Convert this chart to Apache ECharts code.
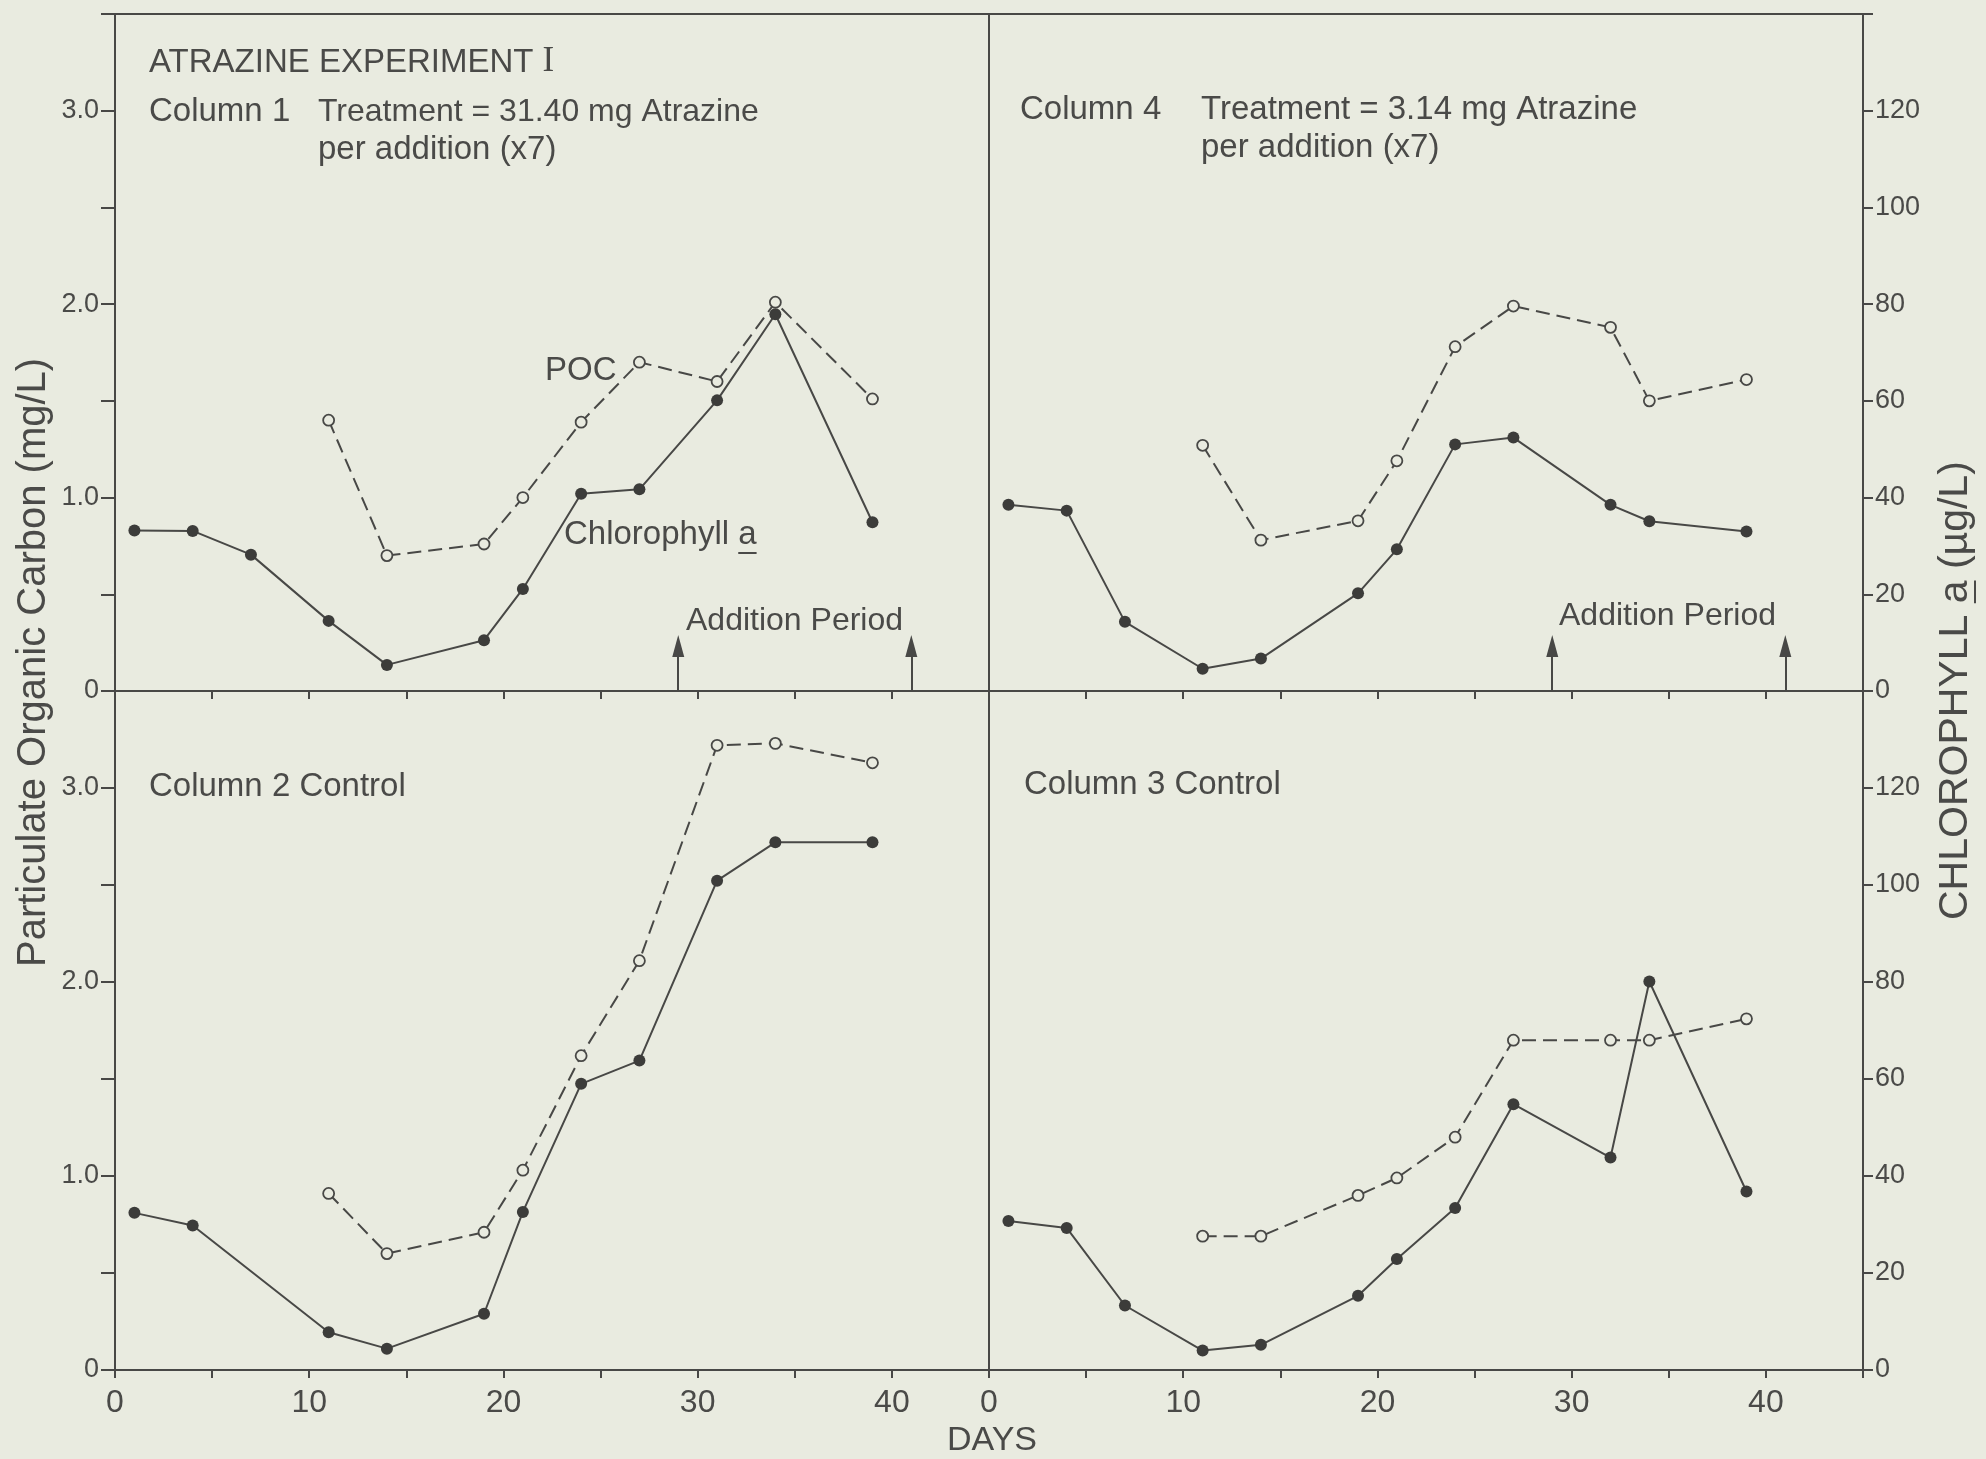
<!DOCTYPE html>
<html><head><meta charset="utf-8">
<script src="https://cdn.jsdelivr.net/npm/echarts@6/dist/echarts.min.js"></script>
<style>html,body{margin:0;padding:0;background:#e9ebe0;}#c{width:1986px;height:1459px;}</style>
</head><body><div id="c"></div>
<script>
// ---------- DATA ----------
// Column 1 (Treatment = 31.40 mg Atrazine)
const col1Days    = [1, 4, 7, 11, 14, 19, 21, 24, 27, 31, 34, 39];
const col1Chl     = [33.2, 33.1, 28.2, 14.5, 5.4, 10.5, 21.1, 40.8, 41.7, 60.1, 77.9, 34.9]; // µg/L
const col1PocDays = [11, 14, 19, 21, 24, 27, 31, 34, 39];
const col1Poc     = [1.40, 0.70, 0.76, 1.00, 1.39, 1.70, 1.60, 2.01, 1.51];             // mg/L
// Column 4 (Treatment = 3.14 mg Atrazine)
const col4Days    = [1, 4, 7, 11, 14, 19, 21, 24, 27, 32, 34, 39];
const col4Chl     = [38.5, 37.3, 14.3, 4.6, 6.7, 20.2, 29.3, 51.0, 52.4, 38.5, 35.1, 33.0];
const col4PocDays = [11, 14, 19, 21, 24, 27, 32, 34, 39];
const col4Poc     = [1.27, 0.78, 0.88, 1.19, 1.78, 1.99, 1.88, 1.50, 1.61];
// Column 2 Control
const col2Days    = [1, 4, 11, 14, 19, 21, 24, 27, 31, 34, 39];
const col2Chl     = [32.4, 29.8, 7.8, 4.4, 11.6, 32.6, 59.0, 63.8, 100.9, 108.8, 108.8];
const col2PocDays = [11, 14, 19, 21, 24, 27, 31, 34, 39];
const col2Poc     = [0.91, 0.60, 0.71, 1.03, 1.62, 2.11, 3.22, 3.23, 3.13];
// Column 3 Control
const col3Days    = [1, 4, 7, 11, 14, 19, 21, 24, 27, 32, 34, 39];
const col3Chl     = [30.7, 29.3, 13.3, 4.0, 5.2, 15.3, 22.9, 33.4, 54.8, 43.8, 80.1, 36.8];
const col3PocDays = [11, 14, 19, 21, 24, 27, 32, 34, 39];
const col3Poc     = [0.69, 0.69, 0.90, 0.99, 1.20, 1.70, 1.70, 1.70, 1.81];
// Addition period arrows (days) and arrow tip height (mg/L)
const additionDays = [29, 41];
const arrowTip     = 0.29;
// Tick labels
const dayTickLabels = ['0', '10', '20', '30', '40'];
const pocTickLabels = ['0', '1.0', '2.0', '3.0'];
const chlTickLabels = ['0', '20', '40', '60', '80', '100', '120'];

// ---------- STYLE ----------
const BG = '#e9ebe0', INK = '#484846', TXT = '#4a4a48';
const FONT = '"Liberation Sans", Arial, sans-serif';
const zip = (a, b) => a.map((v, i) => [v, b[i]]);

const chart = echarts.init(document.getElementById('c'), null, {renderer: 'canvas'});

const LX = 115, RX = 989, PW = 874, T1 = 14, H1 = 677, T2 = 691, H2 = 679;
const panels = [
  {rect: {left: LX, top: T1, width: PW, height: H1}, left: true,  bottom: false, d: col1Days, c: col1Chl, pd: col1PocDays, p: col1Poc, arrows: true},
  {rect: {left: RX, top: T1, width: PW, height: H1}, left: false, bottom: false, d: col4Days, c: col4Chl, pd: col4PocDays, p: col4Poc, arrows: true},
  {rect: {left: LX, top: T2, width: PW, height: H2}, left: true,  bottom: true,  d: col2Days, c: col2Chl, pd: col2PocDays, p: col2Poc, arrows: false},
  {rect: {left: RX, top: T2, width: PW, height: H2}, left: false, bottom: true,  d: col3Days, c: col3Chl, pd: col3PocDays, p: col3Poc, arrows: false}
];

const grid = [], xAxis = [], yAxis = [], series = [];
panels.forEach((P, i) => {
  grid.push(Object.assign({show: true, borderColor: INK, borderWidth: 2, backgroundColor: 'transparent'}, P.rect));
  xAxis.push({
    gridIndex: i, type: 'value', min: 0, max: 45, interval: 5,
    axisLine: {show: true, onZero: false, lineStyle: {color: INK, width: 2}},
    axisTick: {show: true, inside: false, length: 8, lineStyle: {color: INK, width: 2}},
    splitLine: {show: false},
    axisLabel: {show: P.bottom, margin: 17, fontSize: 32, fontFamily: FONT, color: TXT,
      formatter: v => dayTickLabels.includes(String(v)) ? String(v) : ''}
  });
  yAxis.push({
    gridIndex: i, type: 'value', position: 'left', min: 0, max: 3.5, interval: 0.5, show: P.left,
    axisLine: {show: true, onZero: false, lineStyle: {color: INK, width: 2}},
    axisTick: {show: true, inside: false, length: 14, lineStyle: {color: INK, width: 2}},
    splitLine: {show: false},
    axisLabel: {margin: 16, fontSize: 27, fontFamily: FONT, color: TXT,
      formatter: v => { const s = v === 0 ? '0' : v.toFixed(1); return pocTickLabels.includes(s) ? s : ''; }}
  });
  yAxis.push({
    gridIndex: i, type: 'value', position: 'right', min: 0, max: 140, interval: 20, show: !P.left,
    axisLine: {show: true, onZero: false, lineStyle: {color: INK, width: 2}},
    axisTick: {show: true, inside: false, length: 10, lineStyle: {color: INK, width: 2}},
    splitLine: {show: false},
    axisLabel: {margin: 12, fontSize: 27, fontFamily: FONT, color: TXT,
      formatter: v => chlTickLabels.includes(String(v)) ? String(v) : ''}
  });
  const poc = {
    type: 'line', xAxisIndex: i, yAxisIndex: 2 * i, data: zip(P.pd, P.p), silent: true,
    symbol: 'circle', symbolSize: 11,
    itemStyle: {color: BG, borderColor: INK, borderWidth: 1.8},
    lineStyle: {color: INK, width: 2, type: [14, 7]}, z: 2
  };
  series.push(poc);
  if (P.arrows) {
    poc.markLine = {
      silent: true, symbol: ['none', 'none'], animation: false,
      lineStyle: {color: INK, width: 2, type: 'solid'}, label: {show: false},
      emphasis: {disabled: true},
      data: additionDays.map(d => [{coord: [d, 0]}, {coord: [d, arrowTip - 0.05]}])
    };
    series.push({
      type: 'scatter', xAxisIndex: i, yAxisIndex: 2 * i, silent: true,
      data: additionDays.map(d => [d, arrowTip]),
      symbol: 'triangle', symbolSize: [12, 22], symbolOffset: [0, 11],
      itemStyle: {color: INK, opacity: 1}, z: 4
    });
  }
  series.push({
    type: 'line', xAxisIndex: i, yAxisIndex: 2 * i + 1, data: zip(P.d, P.c), silent: true,
    symbol: 'circle', symbolSize: 12,
    itemStyle: {color: '#3c3c3a', borderColor: '#3c3c3a', borderWidth: 0},
    lineStyle: {color: INK, width: 2, type: 'solid'}, z: 3
  });
});

// ---------- TEXT ANNOTATIONS ----------
const ctx = document.createElement('canvas').getContext('2d');
function tw(s, fs, fam) { ctx.font = fs + 'px ' + (fam || FONT); return ctx.measureText(s).width; }
const g = [];
function txt(x, baseline, s, fs, opts) {
  opts = opts || {};
  g.push({type: 'text', x: x, y: baseline - 0.35 * fs, silent: true,
    style: {text: s, fontSize: fs, fontFamily: opts.fam || FONT, fill: TXT,
      align: opts.align || 'left', verticalAlign: 'middle'}});
}
function uline(x1, y1, x2, y2) {
  g.push({type: 'line', silent: true, shape: {x1, y1, x2, y2}, style: {stroke: TXT, lineWidth: 2}});
}
const FS = 33;
txt(149, 74, 'ATRAZINE EXPERIMENT', FS);
txt(149 + tw('ATRAZINE EXPERIMENT ', FS), 74, 'I', 35, {fam: '"Liberation Serif", serif'});
txt(149, 123, 'Column 1', FS);
txt(318, 123, 'Treatment = 31.40 mg Atrazine', 32);
txt(318, 161, 'per addition (x7)', FS);
txt(545, 382, 'POC', FS);
txt(564, 546, 'Chlorophyll a', FS);
{ const a0 = 564 + tw('Chlorophyll ', FS); uline(a0, 553, a0 + tw('a', FS), 553); }
txt(686, 632, 'Addition Period', 32);
txt(1020, 121, 'Column 4', FS);
txt(1201, 121, 'Treatment = 3.14 mg Atrazine', FS);
txt(1201, 159, 'per addition (x7)', FS);
txt(1559, 627, 'Addition Period', 32);
txt(149, 798, 'Column 2 Control', FS);
txt(1024, 796, 'Column 3 Control', FS);
txt(992, 1453, 'DAYS', 34, {align: 'center'});
// rotated axis titles
const LT = 'Particulate Organic Carbon (mg/L)', LFS = 40;
g.push({type: 'text', x: 34, y: 967, rotation: Math.PI / 2, silent: true,
  style: {text: LT, fontSize: LFS, fontFamily: FONT, fill: TXT, align: 'left', verticalAlign: 'middle'}});
const RT = 'CHLOROPHYLL a (µg/L)', RFS = 41, rStart = 920, rCx = 1956;
g.push({type: 'text', x: rCx, y: rStart, rotation: Math.PI / 2, silent: true,
  style: {text: RT, fontSize: RFS, fontFamily: FONT, fill: TXT, align: 'left', verticalAlign: 'middle'}});
{ const y1 = rStart - tw('CHLOROPHYLL ', RFS); const y2 = y1 - tw('a', RFS); uline(rCx + 19, y1, rCx + 19, y2); }

chart.setOption({
  backgroundColor: BG,
  animation: false,
  grid, xAxis, yAxis, series,
  graphic: g
});
</script></body></html>
